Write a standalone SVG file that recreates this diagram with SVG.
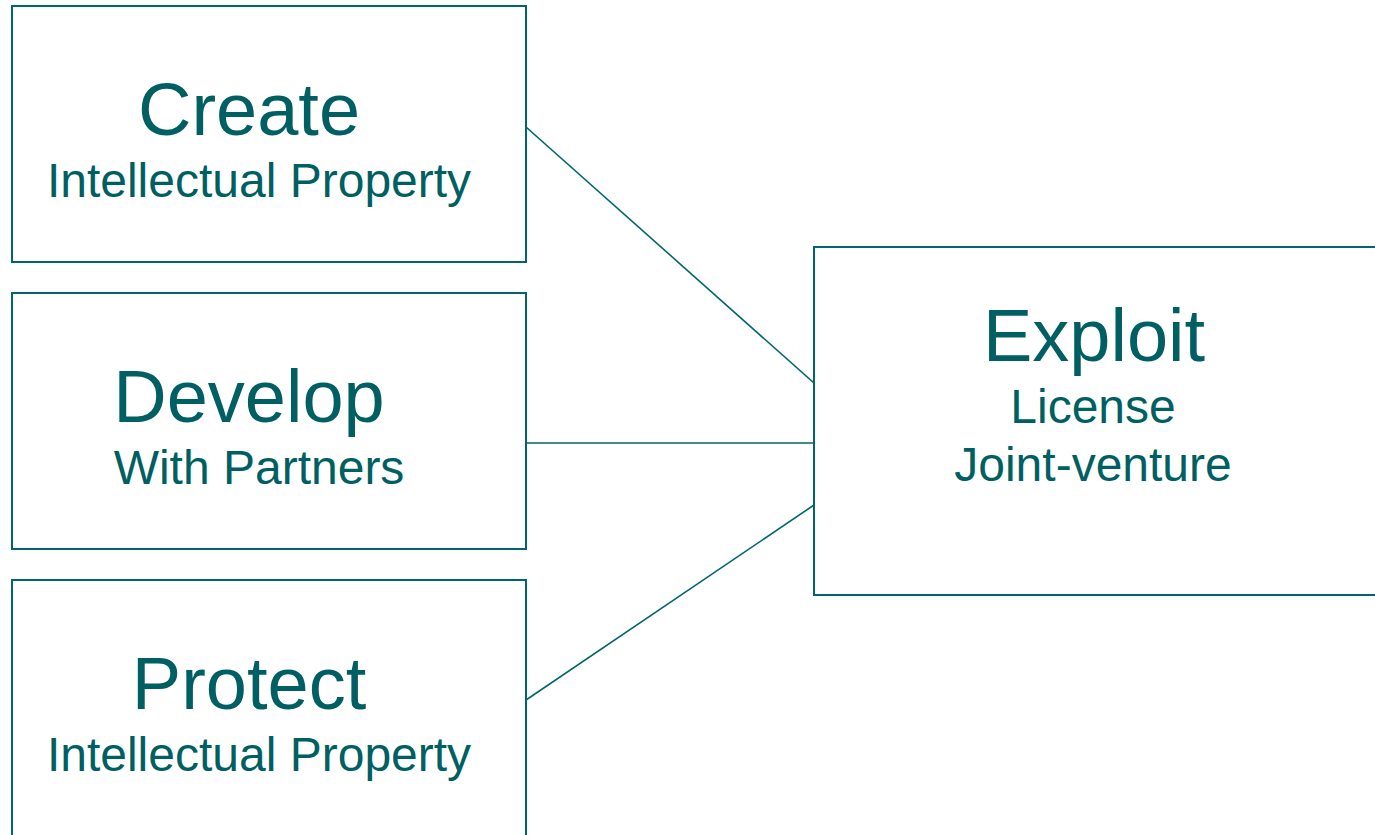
<svg xmlns="http://www.w3.org/2000/svg" width="1375" height="835" viewBox="0 0 1375 835">
<style>
.box{fill:#fff;stroke:#00666B;stroke-width:2}
.con{stroke:#00666B;stroke-width:1.6;fill:none}
text{font-family:"Liberation Sans",Arial,sans-serif;fill:#005F63;text-anchor:middle}
.t{font-size:74px}
.s{font-size:48px}
</style>
<rect width="1375" height="835" fill="#fff"/>
<g id="connectors">
<line class="con" x1="526" y1="127" x2="814" y2="383"/>
<line class="con" x1="526" y1="443" x2="814" y2="443"/>
<line class="con" x1="526" y1="700" x2="814" y2="505"/>
</g>
<g id="create">
<rect class="box" x="12" y="6" width="514" height="256"/>
<text class="t" x="249" y="135">Create</text>
<text class="s" x="259" y="197">Intellectual Property</text>
</g>
<g id="develop">
<rect class="box" x="12" y="293" width="514" height="256"/>
<text class="t" x="249" y="422">Develop</text>
<text class="s" x="259" y="484">With Partners</text>
</g>
<g id="protect">
<rect class="box" x="12" y="580" width="514" height="270"/>
<text class="t" x="249" y="709">Protect</text>
<text class="s" x="259" y="771">Intellectual Property</text>
</g>
<g id="exploit">
<rect class="box" x="814" y="247" width="580" height="348"/>
<text class="t" x="1094" y="361">Exploit</text>
<text class="s" x="1093" y="423">License</text>
<text class="s" x="1093" y="481">Joint-venture</text>
</g>
</svg>
